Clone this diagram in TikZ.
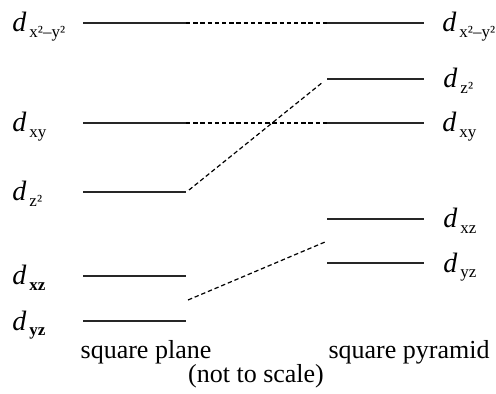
\documentclass[tikz,border=0pt]{standalone}
\usepackage{fontspec}
\setmainfont{Liberation Serif}
\newcommand{\dorb}[1]{{\fontsize{14}{15}\selectfont\textit{d}}\kern1.5pt\raisebox{-0.45ex}{\fontsize{8.5}{9}\selectfont #1}}
\begin{document}
\begin{tikzpicture}[x=0.5pt, y=-0.5pt,
    orbline/.style={line width=0.8pt, black!85},
    corr/.style={dash pattern=on 2.2pt off 1.4pt, line width=0.6pt},
    lab/.style={anchor=base west, inner sep=0pt, font=\fontsize{13}{15}\selectfont},
    caption/.style={anchor=base, inner sep=0pt, font=\fontsize{13}{15}\selectfont}]
  \useasboundingbox (0,0) rectangle (496,394);
  % square plane levels
  \foreach \name/\y in {pA/23, pB/123, pC/192, pD/276, pE/321} {
    \coordinate (\name l) at (83,\y);
    \coordinate (\name r) at (186,\y);
    \draw[orbline] (\name l) -- (\name r);
  }
  % square pyramid levels
  \foreach \name/\y in {qA/23, qB/79, qC/123, qD/219, qE/263} {
    \coordinate (\name l) at (327,\y);
    \coordinate (\name r) at (424,\y);
    \draw[orbline] (\name l) -- (\name r);
  }
  % labels
  \node[lab] (lA) at (12,32) {\dorb{x²\textendash y²}};
  \node[lab] (lB) at (12,132) {\dorb{xy}};
  \node[lab] (lC) at (12,201) {\dorb{z²}};
  \node[lab] (lD) at (12,285) {\dorb{\textbf{xz}}};
  \node[lab] (lE) at (12,330) {\dorb{\textbf{yz}}};
  \node[lab] (rA) at (442,32) {\dorb{x²\textendash y²}};
  \node[lab] (rB) at (443,88) {\dorb{z²}};
  \node[lab] (rC) at (442,132) {\dorb{xy}};
  \node[lab] (rD) at (443,228) {\dorb{xz}};
  \node[lab] (rE) at (443,272) {\dorb{yz}};
  % correlation lines
  \coordinate (pm) at (188,300);
  \coordinate (qm) at (325,242);
  \draw[corr] (pAr) -- (qAl);
  \draw[corr] (pBr) -- (qCl);
  \draw[corr] ([xshift=1.5pt,yshift=1pt]pCr) -- ([xshift=-2pt,yshift=-1.5pt]qBl);
  \draw[corr] (pm) -- (qm);
  % captions
  \node[caption] (sp) at (146,358) {square plane};
  \node[caption] (spy) at (409,358) {square pyramid};
  \node[caption] (nts) at (256,382) {(not to scale)};
\end{tikzpicture}
\end{document}
